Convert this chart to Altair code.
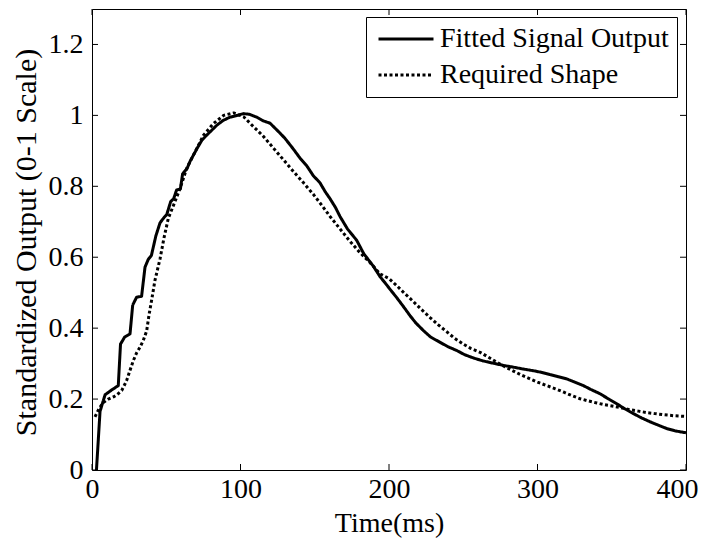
import altair as alt
import pandas as pd

series_names = ["Fitted Signal Output", "Required Shape"]

t_fit = [3.0, 5.4, 8.8, 13, 17.7, 19.2, 22, 25.6, 27.4, 30, 33.4, 35.7, 37.9, 40, 43, 45.8,
         48.5, 50.3, 53, 55, 57, 59.5, 61, 64, 66, 70.5, 74, 77.2, 84, 88, 92.9, 98, 101.9,
         106, 110.9, 115, 119.9, 123, 126.6, 130, 135.6, 140, 144.6, 149, 153.5, 157, 160.3,
         164, 167, 172, 178.2, 183, 189.4, 194, 197.3, 201, 205.2, 209, 214.2, 218, 223.2,
         228, 234.4, 240, 245.6, 251, 256.8, 263, 270.3, 277, 283.8, 290, 297.2, 303, 308.4,
         314, 319.7, 325, 330.9, 336, 342.1, 348, 353.3, 359, 364.6, 370, 375.8, 381, 387,
         393, 400]
v_fit = [0.0, 0.165, 0.212, 0.225, 0.238, 0.355, 0.375, 0.384, 0.465, 0.487, 0.49, 0.572,
         0.594, 0.605, 0.66, 0.697, 0.712, 0.72, 0.757, 0.765, 0.79, 0.792, 0.835, 0.85, 0.87,
         0.905, 0.93, 0.944, 0.972, 0.985, 0.995, 1.0, 1.005, 1.003, 0.995, 0.985, 0.978,
         0.965, 0.95, 0.935, 0.905, 0.88, 0.858, 0.83, 0.81, 0.785, 0.765, 0.74, 0.715, 0.68,
         0.648, 0.61, 0.575, 0.545, 0.528, 0.508, 0.486, 0.465, 0.435, 0.415, 0.393, 0.375,
         0.36, 0.347, 0.337, 0.325, 0.316, 0.308, 0.301, 0.295, 0.29, 0.285, 0.28, 0.275,
         0.269, 0.263, 0.257, 0.248, 0.238, 0.227, 0.215, 0.2, 0.187, 0.172, 0.159, 0.147,
         0.136, 0.127, 0.117, 0.11, 0.105]

t_req = [2.0, 5, 7.6, 11, 14.4, 17, 20, 23.3, 25.5, 27.8, 30, 32.3, 34.5, 36.8, 38.5, 40.2,
         42.4, 45.8, 48.5, 51.4, 55.9, 59.3, 63.8, 69.5, 75.1, 81.8, 88.6, 95.4, 102.1,
         108.8, 115.6, 122.3, 129.1, 135.8, 142.6, 149.3, 155, 160.3, 167, 173.7, 180, 187.2,
         194, 200, 205.2, 210, 216.4, 222, 227.6, 233, 238.8, 244, 250, 255, 261.3, 267,
         272.5, 278, 283.8, 289, 295, 300, 306.2, 312, 317.4, 323, 328.7, 334, 339.9, 345,
         351.1, 357, 362.3, 368, 373.5, 379, 384.8, 392, 400]
v_req = [0.15, 0.175, 0.19, 0.2, 0.206, 0.213, 0.224, 0.252, 0.28, 0.308, 0.33, 0.346, 0.365,
         0.392, 0.44, 0.48, 0.535, 0.595, 0.655, 0.71, 0.757, 0.794, 0.851, 0.898, 0.944,
         0.977, 1.0, 1.007, 0.996, 0.968, 0.94, 0.907, 0.874, 0.841, 0.809, 0.776, 0.745,
         0.715, 0.68, 0.645, 0.615, 0.585, 0.553, 0.54, 0.52, 0.5, 0.475, 0.452, 0.43, 0.41,
         0.39, 0.372, 0.355, 0.343, 0.332, 0.318, 0.304, 0.291, 0.279, 0.268, 0.257, 0.248,
         0.238, 0.229, 0.22, 0.21, 0.201, 0.195, 0.189, 0.184, 0.18, 0.175, 0.17, 0.166,
         0.162, 0.159, 0.156, 0.153, 0.151]

x_ticks = [0, 100, 200, 300, 400]
y_ticks = [0, 0.2, 0.4, 0.6, 0.8, 1.0, 1.2]

df = pd.concat([
    pd.DataFrame({"t": t_fit, "v": v_fit, "series": series_names[0]}),
    pd.DataFrame({"t": t_req, "v": v_req, "series": series_names[1]}),
], ignore_index=True)
xt = pd.DataFrame({"t": x_ticks})
yt = pd.DataFrame({"v": y_ticks})

W, H = 594, 461
FONT = "Liberation Serif, Times New Roman, serif"
FS = 28

xscale = alt.Scale(domain=[0, 400], nice=False, zero=False)
yscale = alt.Scale(domain=[0, 1.3], nice=False, zero=False)

lines = alt.Chart(df).mark_line(
    color="black", strokeWidth=3, strokeCap="butt", strokeJoin="round", clip=True
).encode(
    x=alt.X("t:Q", scale=xscale, axis=alt.Axis(
        values=x_ticks, format="d", title="Time(ms)", labelPadding=5,
        labelOffset={"condition": {"test": "datum.value === 400", "value": -9}, "value": 0},
        titleX=W / 2, titleY=61, titleBaseline="alphabetic", titleAlign="center")),
    y=alt.Y("v:Q", scale=yscale, axis=alt.Axis(
        values=y_ticks, format="~g", title="Standardized Output (0-1 Scale)", labelPadding=9,
        titleFontSize=30, titleX=-57, titleY=233, titleAngle=-90,
        titleBaseline="alphabetic", titleAlign="center")),
    strokeDash=alt.StrokeDash("series:N", scale=alt.Scale(domain=series_names,
                                                          range=[[1, 0], [3, 2.5]]),
                              legend=alt.Legend(title=None)),
)

tick_len = 6
bottom_ticks = alt.Chart(xt).mark_rule(color="black", strokeWidth=1).encode(
    x=alt.X("t:Q", scale=xscale), y=alt.value(H), y2=alt.value(H - tick_len))
top_ticks = alt.Chart(xt).mark_rule(color="black", strokeWidth=1).encode(
    x=alt.X("t:Q", scale=xscale), y=alt.value(0), y2=alt.value(tick_len))
left_ticks = alt.Chart(yt).mark_rule(color="black", strokeWidth=1).encode(
    y=alt.Y("v:Q", scale=yscale), x=alt.value(0), x2=alt.value(tick_len))
right_ticks = alt.Chart(yt).mark_rule(color="black", strokeWidth=1).encode(
    y=alt.Y("v:Q", scale=yscale), x=alt.value(W), x2=alt.value(W - tick_len))

chart = alt.layer(lines, bottom_ticks, top_ticks, left_ticks, right_ticks).properties(
    width=W, height=H,
    autosize=alt.AutoSizeParams(type="none"),
    padding={"left": 84, "top": 1, "right": 17, "bottom": 68},
).configure_view(
    stroke="black", strokeWidth=1
).configure_axis(
    labelFont=FONT, labelFontSize=FS, labelColor="black",
    titleFont=FONT, titleFontSize=FS, titleColor="black", titleFontWeight="normal",
    ticks=False, domain=False, grid=False, labelFlush=False, labelOverlap=False,
).configure_legend(
    orient="none", legendX=274, legendY=8,
    strokeColor="black", fillColor="white", padding=8, cornerRadius=0,
    symbolType="stroke", symbolSize=3025, symbolStrokeWidth=3, symbolStrokeColor="black",
    symbolOffset=3, labelOffset=5, clipHeight=28, rowPadding=8,
    labelFont=FONT, labelFontSize=FS, labelColor="black", labelLimit=400,
)

chart.save("out.html", embed_options={"renderer": "svg", "actions": False})
